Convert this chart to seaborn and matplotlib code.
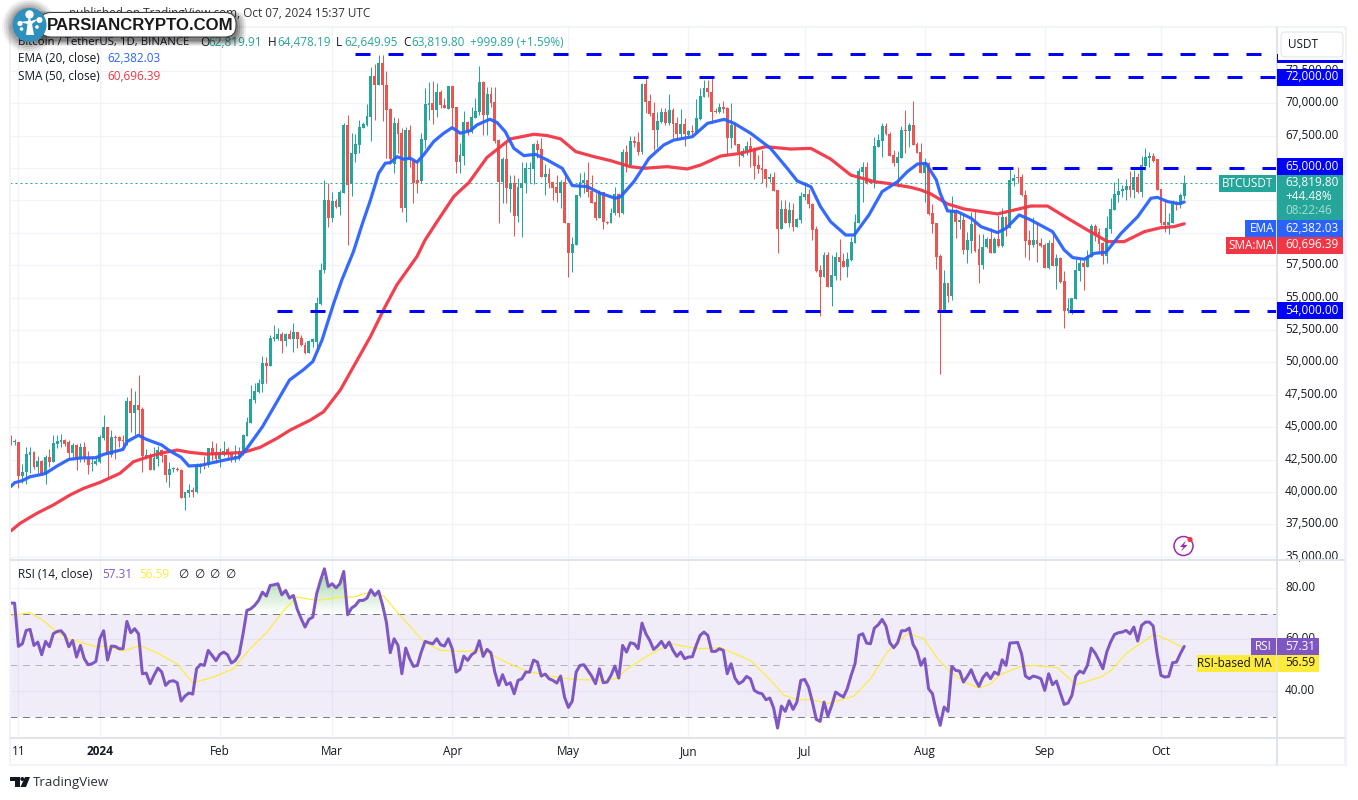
import numpy as np
import pandas as pd
import seaborn as sns
import matplotlib
matplotlib.use("Agg")
from matplotlib import pyplot as plt
from matplotlib.colors import LinearSegmentedColormap
from matplotlib.patches import Rectangle, FancyBboxPatch, Circle, Polygon
from matplotlib.path import Path
from matplotlib.ticker import FuncFormatter
from matplotlib.transforms import ScaledTranslation

sns.set_theme(style="white")
plt.rcParams['font.family'] = ['Open Sans', 'DejaVu Sans']
plt.rcParams['lines.scale_dashes'] = False

# daily candles from 2023-12-09, prices in thousands of USDT
opens = [44.21,43.85,43.85,41.25,41.51,42.87,43.08,41.92,42.39,41.38,
    42.69,42.31,43.70,43.88,44.00,43.88,43.00,43.62,42.51,43.46,
    42.72,42.15,42.15,42.33,44.16,45.01,42.85,44.24,44.24,44.00,
    43.93,46.99,46.11,46.71,46.37,42.77,42.87,41.69,42.54,43.21,
    42.85,41.33,41.74,41.79,41.69,39.53,39.94,40.15,39.99,41.89,
    42.15,42.08,43.36,43.10,42.54,43.08,43.31,43.03,42.59,42.72,
    43.10,44.34,45.34,47.09,47.74,48.33,49.92,49.72,51.83,51.83,
    52.22,51.68,52.19,51.83,52.35,51.88,51.34,50.70,51.58,51.60,
    54.51,57.14,62.54,61.12,62.46,62.02,63.11,68.33,63.75,66.09,
    66.78,68.10,68.35,68.97,72.11,71.42,73.09,71.42,69.56,65.32,
    68.46,67.69,61.95,67.94,65.63,64.08,64.03,67.17,69.90,70.00,
    69.49,70.90,69.87,69.59,71.34,69.69,65.50,65.96,68.59,67.81,
    68.87,69.36,71.65,69.10,70.72,70.10,67.17,63.95,65.68,63.39,
    63.83,61.30,63.47,63.83,64.93,64.93,66.86,66.45,64.34,64.52,
    63.95,63.57,63.11,63.95,60.79,58.42,59.07,62.87,63.88,64.08,
    63.26,62.36,61.18,63.18,60.87,60.78,61.50,62.97,61.56,66.21,
    65.21,67.09,67.04,66.24,71.49,70.15,69.22,67.94,68.58,69.35,
    68.45,69.48,68.45,67.63,68.40,67.53,67.83,67.81,68.81,70.51,
    71.18,70.87,69.40,69.33,69.69,69.61,67.32,68.45,66.86,65.96,
    66.24,66.70,66.52,65.21,65.00,64.93,64.13,64.31,63.31,60.29,
    61.84,60.78,61.76,60.48,60.99,62.79,62.99,62.23,60.29,57.13,
    56.62,58.29,55.84,56.67,58.11,57.82,57.39,57.90,59.24,60.76,
    64.72,65.11,64.03,64.03,66.60,67.11,68.25,67.63,66.01,65.36,
    65.80,67.94,67.89,68.35,66.86,66.24,64.64,65.41,61.51,60.74,
    58.21,54.05,56.10,55.15,61.76,60.86,60.99,58.68,59.40,60.74,
    58.73,57.52,58.88,59.53,58.47,59.53,58.99,61.20,60.40,64.03,
    64.29,64.31,62.95,59.45,59.06,59.45,59.24,59.06,57.26,59.24,
    57.47,58.06,56.28,53.97,54.05,54.92,57.08,57.65,57.39,58.16,
    60.53,60.09,59.24,58.21,60.32,61.76,62.95,63.21,63.31,63.62,
    63.31,64.34,63.15,65.16,65.80,65.93,65.70,63.36,60.84,60.58,
    60.79,62.33,62.13,62.82]
closes = [43.70,43.93,41.25,41.51,42.92,43.08,41.89,42.36,41.38,42.69,
    42.31,43.75,43.93,44.00,43.72,43.00,43.62,42.51,43.46,42.51,
    42.08,42.23,42.39,44.21,45.01,42.85,44.21,44.19,43.90,43.93,
    46.99,46.11,46.71,46.35,42.77,42.85,41.69,42.59,43.23,42.77,
    41.33,41.77,41.82,41.66,39.53,39.99,40.15,39.99,41.95,42.15,
    42.00,43.36,42.85,42.51,43.10,43.16,42.92,42.72,42.77,43.16,
    44.39,45.39,47.14,47.79,48.40,49.97,49.72,51.88,51.94,52.19,
    51.68,52.19,51.78,52.35,51.83,51.32,50.70,51.65,51.78,54.56,
    57.14,62.54,61.12,62.46,62.02,63.13,68.33,63.70,66.14,66.86,
    68.15,68.41,69.02,72.11,71.42,73.09,71.42,69.49,65.68,68.46,
    67.63,61.95,67.94,65.63,63.83,63.83,67.22,69.95,70.00,69.49,
    70.90,69.87,69.62,71.34,69.62,65.50,66.01,68.59,67.81,68.92,
    69.44,71.65,69.10,70.72,70.05,67.12,63.95,65.68,63.44,63.83,
    61.30,63.52,63.83,65.01,65.01,66.86,66.40,64.34,64.52,63.83,
    63.49,63.11,63.95,60.74,58.42,59.14,62.93,63.90,64.08,63.18,
    62.33,61.12,63.18,60.82,60.79,61.56,62.97,61.56,66.26,65.16,
    67.09,66.96,66.26,71.49,70.12,69.17,67.94,68.61,69.33,68.45,
    69.48,68.40,67.63,68.40,67.63,67.89,67.78,68.86,70.56,71.18,
    70.84,69.35,69.33,69.71,69.58,67.32,68.35,66.80,66.24,66.34,
    66.70,66.24,65.16,64.95,64.87,64.13,64.31,63.25,60.29,61.84,
    60.78,61.74,60.48,61.07,62.84,62.99,62.20,60.22,57.05,56.62,
    58.29,55.84,56.72,58.11,57.77,57.39,57.95,59.29,60.81,64.77,
    65.11,63.87,63.87,66.70,67.16,68.27,67.63,65.93,65.36,65.83,
    67.94,67.89,68.35,66.80,66.19,64.64,65.36,61.45,60.68,58.16,
    54.05,56.10,55.15,61.76,60.86,60.99,58.68,59.45,60.68,58.63,
    57.52,58.91,59.53,58.47,59.53,58.99,61.20,60.40,64.08,64.23,
    64.21,62.90,59.40,59.06,59.45,59.11,58.99,57.31,59.24,57.47,
    58.06,56.21,53.97,54.22,55.00,57.13,57.65,57.39,58.16,60.53,
    59.83,59.14,58.24,60.40,61.84,63.00,63.26,63.36,63.62,63.31,
    64.34,63.15,65.21,65.83,65.93,65.57,63.31,60.79,60.58,60.84,
    62.23,62.13,62.92,63.82]
highs = [44.39,44.08,43.85,42.15,43.44,43.44,43.13,42.77,42.46,42.85,
    43.28,44.42,44.37,44.47,44.11,44.00,43.80,43.70,43.75,43.85,
    43.18,42.72,42.72,44.39,45.93,45.01,44.78,44.39,44.31,44.37,
    47.30,47.99,47.79,49.02,46.53,43.28,42.98,43.44,43.54,43.28,
    42.85,42.31,41.95,41.89,41.74,39.99,40.58,40.35,42.26,42.26,
    42.77,43.36,43.93,43.75,43.36,43.93,43.44,43.10,43.62,43.44,
    44.47,45.75,48.25,48.43,48.69,50.50,50.44,52.12,52.89,52.68,
    52.37,52.30,52.50,53.02,52.37,52.14,51.60,51.73,51.86,55.03,
    57.65,64.08,63.83,63.18,62.59,63.31,68.51,69.10,67.69,67.63,
    68.71,68.59,69.95,72.83,73.04,73.73,73.73,72.52,69.60,68.92,
    68.84,68.07,68.15,68.33,65.63,65.50,67.74,71.16,71.62,71.75,
    71.55,71.03,70.39,71.34,71.34,69.74,66.91,69.44,68.66,69.74,
    70.39,72.88,71.75,71.29,71.29,71.29,67.22,65.88,67.04,64.47,
    64.47,64.21,65.50,65.50,65.50,66.91,67.17,67.30,65.32,64.98,
    63.95,64.47,64.08,64.80,60.79,59.71,62.93,64.60,64.73,65.50,
    64.47,63.11,63.31,63.18,60.95,61.89,63.56,63.05,66.47,66.78,
    67.47,67.47,67.81,71.54,72.00,70.72,70.12,69.35,69.61,69.61,
    70.72,69.61,68.97,69.53,68.84,67.94,68.32,70.30,71.15,71.80,
    71.80,72.05,69.61,70.00,70.20,69.69,70.00,68.50,66.86,66.52,
    67.11,67.37,66.60,66.01,66.39,64.93,64.59,64.72,63.31,62.53,
    62.53,62.41,62.28,61.12,63.18,63.95,63.36,62.28,60.53,57.52,
    58.55,58.55,58.29,58.55,59.55,58.47,58.55,59.70,61.45,64.98,
    65.47,65.47,64.08,67.37,67.63,68.45,68.50,67.81,66.39,66.34,
    68.25,69.48,68.45,70.20,67.04,66.91,65.75,65.49,62.23,60.74,
    58.37,57.13,56.10,62.85,61.82,61.51,61.46,60.09,61.64,61.76,
    59.91,59.91,59.71,60.35,59.71,61.38,61.89,61.30,64.98,64.54,
    65.06,64.54,63.31,60.22,61.20,60.86,59.58,59.19,59.45,59.91,
    58.37,58.16,57.06,54.95,55.00,57.96,57.96,57.91,58.68,60.68,
    60.68,60.35,59.32,61.30,62.67,63.95,64.23,63.69,64.13,64.80,
    64.85,64.59,65.93,66.52,66.27,66.14,65.70,63.36,62.54,61.51,
    62.54,62.49,63.05,64.48]
lows = [43.62,43.62,40.33,40.71,40.61,41.43,41.79,41.43,41.30,40.61,
    41.89,42.31,43.39,43.44,43.54,42.51,42.72,41.69,42.33,42.33,
    41.38,41.64,42.08,42.26,44.00,41.17,42.72,42.56,43.44,43.44,
    43.62,44.65,44.39,44.39,41.56,42.51,41.69,41.69,42.00,42.33,
    40.76,40.40,41.56,41.61,39.53,38.63,39.58,39.63,39.91,41.43,
    41.74,41.89,42.46,42.26,41.95,42.77,42.51,42.33,42.33,42.46,
    42.85,44.31,45.34,46.84,47.61,47.71,48.43,49.72,51.68,51.73,
    50.70,51.29,51.78,50.80,51.09,51.27,50.62,50.70,51.22,50.96,
    54.40,56.90,60.48,60.87,61.95,61.38,63.05,59.07,62.85,65.50,
    66.14,68.07,68.25,67.09,68.71,71.42,68.64,65.76,65.32,64.60,
    66.14,61.64,60.87,65.11,62.28,63.05,63.83,66.53,68.71,68.41,
    68.92,69.62,69.62,69.59,68.15,64.65,64.60,65.24,67.56,67.69,
    68.87,69.10,67.56,67.56,69.74,66.97,60.79,62.28,62.28,61.64,
    59.76,60.87,59.71,63.05,63.83,63.78,65.76,64.29,62.90,63.44,
    62.54,62.41,61.90,60.74,56.62,57.01,59.07,62.80,63.11,62.80,
    62.33,61.00,61.12,60.28,60.70,60.73,61.38,61.25,61.45,64.72,
    65.16,66.60,66.01,66.08,69.27,69.02,66.39,66.60,68.45,68.32,
    68.32,67.29,67.22,67.22,66.70,67.47,67.47,67.73,68.71,70.46,
    70.46,68.45,69.22,69.22,69.22,66.01,66.52,66.75,65.16,65.88,
    66.01,65.11,64.18,64.59,63.82,63.51,63.95,63.25,58.47,60.27,
    60.73,60.48,60.14,60.42,60.78,62.53,61.89,59.45,57.00,53.58,
    56.56,55.84,54.35,56.36,56.36,57.34,56.62,57.85,59.19,60.73,
    62.41,63.77,63.82,63.43,66.60,65.88,67.55,65.93,65.16,63.56,
    65.75,66.14,66.65,66.78,66.14,64.59,62.41,61.38,59.96,57.21,
    49.11,54.05,54.69,54.82,59.63,60.32,58.37,57.70,58.47,58.55,
    56.16,57.18,58.81,58.42,58.42,58.93,58.93,59.76,60.35,63.62,
    63.82,62.87,58.11,57.91,58.93,57.78,58.88,57.26,57.18,57.44,
    55.69,56.16,52.68,53.84,53.76,54.87,56.31,55.59,57.34,58.11,
    59.40,58.42,57.60,57.70,59.96,61.76,62.41,62.79,62.54,62.79,
    62.67,63.05,62.79,64.85,65.11,65.50,63.31,60.61,60.09,59.91,
    60.74,61.76,61.89,62.65]

# moving averages read at sample days
ema_days = [0,1,3,5,8,9,12,15,18,22,24,29,30,33,35,39,41,44,46,49,52,56,59,61,65,69,72,75.5,78,80.4,83.4,
    85.5,88.5,90.7,92.9,95,96.7,98,99.8,101.5,103.2,104.9,106.6,109.2,111.8,114,116.1,
    118.7,120.4,123.7,125.6,127.7,129.9,132.5,135.5,138.5,142.4,145,148.8,152.3,156.1,157.5,160.9,
    162.6,164.8,168.6,171.2,176,179.9,184.2,186.8,191.1,196.2,200.5,203.1,206.6,209.1,211.7,215.6,
    217.8,221.6,225,229,231.5,234.1,236.3,239,240,241.9,244.4,248,250.5,254.8,257,260.4,263.4,269,
    272,274.2,277.2,279.8,282.8,286.7,291,294.4,296.1,298.7,301.7,303]
ema_vals = [40.40,40.71,40.87,41.17,41.35,41.43,42.00,42.51,42.62,42.64,42.90,43.28,43.88,44.37,44.06,
    43.62,43.18,42.67,42.00,42.05,42.25,42.51,42.67,43.36,45.03,47.09,48.64,49.41,50.06,51.73,54.56,
    56.36,58.55,60.61,62.54,64.60,65.37,65.42,65.88,65.68,65.76,65.45,66.01,67.04,67.69,68.12,67.69,
    67.89,68.33,68.77,68.51,67.81,66.53,65.96,66.06,65.63,64.98,63.65,63.57,63.05,62.67,62.79,63.95,
    64.72,65.75,66.78,67.16,67.42,68.45,68.76,68.45,67.68,66.52,64.98,64.00,63.56,62.02,60.86,59.83,
    59.83,61.38,63.18,63.95,64.72,65.31,65.37,64.08,63.05,61.69,61.64,61.12,60.48,60.02,60.35,61.38,60.99,60.09,
    58.68,58.09,57.96,58.42,58.50,59.96,61.25,62.67,62.74,62.41,62.25,62.38]
sma_days = [0,2.4,6.7,11,15.3,18.8,23.1,28.2,31.7,35.1,38.6,43,46.3,50.6,55.8,60.1,64.4,68.7,72.2,77.4,80.8,85.1,
    92.9,96.7,99.7,104.9,107,110.1,114.4,118.3,123,129,135.1,138.5,142,145.9,150.6,154.9,160,163.5,169.5,174.7,
    178.1,183.3,188.5,194.9,201.4,206.6,211.7,216.9,223,226.4,232.4,235,237.6,241.9,246.2,254.8,259.1,263.4,
    267.7,272.9,278,283.2,287.5,292.7,297,300.4,303]
sma_vals = [36.98,37.57,38.34,38.99,39.76,40.27,40.74,41.43,42.33,42.67,42.98,43.23,43.05,42.92,42.98,43.05,43.44,44.13,44.78,45.55,46.19,47.86,
    52.00,54.31,55.98,58.17,59.45,60.87,62.80,63.88,65.83,67.25,67.61,67.51,67.25,66.27,65.88,65.57,65.11,64.98,65.11,64.93,
    65.23,65.93,66.14,66.65,66.47,66.52,65.70,64.46,63.95,63.82,63.51,63.31,63.00,62.23,61.84,61.46,61.76,62.07,
    62.07,61.12,60.22,59.32,59.32,60.09,60.40,60.48,60.70]

rsi_vals = [74.15,74.15,57.31,58.34,63.52,63.91,57.69,58.99,54.07,59.25,
    57.18,62.23,63.13,63.39,61.58,57.18,59.64,53.16,57.69,52.51,
    50.18,50.57,51.48,60.28,63.39,51.99,57.44,57.31,56.40,56.40,
    67.02,62.62,64.17,62.23,46.68,46.94,42.80,46.04,48.89,47.33,
    42.15,43.70,43.96,43.19,36.06,38.00,39.17,38.78,48.63,50.31,
    49.92,55.75,53.81,51.74,54.20,55.10,54.07,50.83,51.87,54.20,
    62.23,71.30,71.94,73.24,75.18,78.42,76.87,81.01,81.27,81.66,
    77.38,79.07,76.09,77.12,71.68,68.06,64.82,67.80,68.70,77.77,
    82.95,87.49,80.62,81.66,80.10,81.66,86.45,69.61,72.20,73.24,
    75.18,75.18,76.09,79.33,77.12,78.81,73.50,66.76,54.84,60.28,
    57.69,46.68,56.66,52.51,49.53,49.92,55.10,59.25,58.73,58.34,
    60.28,57.95,57.44,60.28,56.40,47.33,48.37,
    53.55,51.87,54.07,55.10,59.51,53.42,56.14,54.84,47.33,42.15,
    46.30,42.41,43.19,38.91,44.09,44.74,47.33,47.33,51.99,51.22,
    45.78,46.55,44.74,44.09,43.06,45.78,37.62,33.60,36.06,47.33,
    49.92,50.18,47.98,45.78,42.80,48.63,43.19,43.45,46.04,49.66,
    45.00,57.69,55.10,58.73,58.34,56.40,66.37,62.23,59.64,56.14,
    57.44,59.25,56.79,58.99,55.75,53.42,55.10,52.51,53.16,53.29,
    57.69,61.58,62.88,61.58,55.36,55.36,56.40,55.75,46.68,50.57,
    45.00,42.80,43.70,45.65,44.74,40.21,39.30,38.91,36.58,37.23,
    33.34,25.57,34.12,32.05,36.19,32.82,35.67,44.09,44.48,41.50,
    35.67,28.94,28.16,35.67,30.23,34.38,39.56,38.52,37.62,40.85,
    46.04,50.57,61.58,62.23,58.60,58.34,64.43,65.72,67.80,65.21,
    58.73,56.79,58.73,63.39,63.39,64.43,
    58.08,55.49,49.92,52.51,40.85,38.91,31.79,26.61,33.73,32.05,
    49.53,47.98,47.72,43.45,45.65,48.24,44.48,41.76,45.13,46.94,
    44.74,47.33,46.42,52.12,49.92,58.60,58.73,58.86,54.46,45.78,
    44.74,45.78,45.39,44.74,40.21,46.68,42.41,43.83,39.30,34.77,
    35.28,38.26,45.78,47.72,46.94,49.92,56.66,54.72,51.87,48.63,
    55.10,58.99,61.97,62.62,62.88,63.52,62.23,64.82,59.38,65.47,
    66.76,66.76,65.21,54.46,46.04,45.39,45.65,50.96,51.22,54.46,57.31]
rsi_ma_days = [0,5,8.4,11.9,15.3,22.2,24.8,29.1,33.4,37.7,42.9,47,52.4,57.5,61.8,66.2,70.5,73.9,79.1,85.1,88.5,92.9,96.3,
    100.6,106.6,110.9,115.8,122.1,128.2,133.3,139.4,145.4,154,156.6,159.2,164.3,170.4,177.3,183.3,191,196.2,199.7,203.1,
    207,210.9,217.7,222,226.3,231.5,232.4,235.8,239.3,242.7,246.2,250,253.1,255.6,260.8,264.3,270.3,275,281.5,284.1,288.4,295.3,298.7,303]
rsi_ma_vals = [69.35,70.39,67.41,62.88,60.03,57.18,57.44,55.49,57.69,54.84,50.57,43.19,45.39,48.63,56.40,62.88,71.30,76.48,75.18,76.48,76.48,78.42,76.87,
    69.35,59.25,55.75,55.36,55.75,50.96,47.59,45.78,44.48,44.09,45.00,48.63,53.55,58.34,56.40,56.79,51.87,44.09,38.26,36.58,
    36.58,35.03,38.00,44.74,55.10,62.23,61.97,60.28,52.51,47.33,43.45,41.11,42.80,46.42,49.53,49.92,49.02,42.41,45.39,47.98,55.10,61.97,59.90,56.59]

# hand drawn levels: price, first day
level_prices = [73770, 72000, 65000, 54000]
level_starts = [88.9, 160.8, 238.0, 68.8]
level_ends = [323.3, 340, 340, 340]

month_days = [2, 23, 54, 83, 114, 144, 175, 205, 236, 267, 297]
month_labels = ['11', '2024', 'Feb', 'Mar', 'Apr', 'May', 'Jun', 'Jul', 'Aug', 'Sep', 'Oct']
price_ticks = list(range(35000, 75000, 2500))
hidden_ticks = [60000, 62500, 65000]  # sit behind the tags on the scale
rsi_ticks = [40, 60, 80]

UP = '#26a69a'
DOWN = '#ef5350'
EMA_C = '#2962ff'
SMA_C = '#f23645'
RSI_C = '#7e57c2'
RSI_MA_C = '#ffeb3b'
LEVEL_C = '#0000ff'
TXT = '#131722'
GRID = '#f0f3fa'
BORDER = '#e0e3eb'
FS = 11.7

df = pd.DataFrame({'open': opens, 'high': highs, 'low': lows, 'close': closes}) * 1000
df['rsi'] = rsi_vals
df['day'] = np.arange(len(df))
df['color'] = np.where(df['close'] >= df['open'], UP, DOWN)

W, H = 1358, 800
fh = plt.figure(figsize=(W / 100, H / 100), dpi=100, facecolor='white')
PX = 0.72  # points per pixel


def pane(x0, y0, x1, y1):
    return fh.add_axes([x0 / W, 1 - y1 / H, (x1 - x0) / W, (y1 - y0) / H])


def raise_labels(labels, px):
    for lab in labels:
        lab.set_transform(lab.get_transform() + ScaledTranslation(0, px / 100, fh.dpi_scale_trans))


# ---------- price pane ----------
ah = pane(10, 27, 1277, 559)
ah.set_xlim(-0.18, 326.96)
ah.set_ylim(34820, 75890)
ah.vlines(df['day'], df['low'], df['high'], colors=df['color'], linewidth=1 * PX, zorder=3)
ah.bar(df['day'], np.maximum((df['close'] - df['open']).abs(), 80), bottom=df[['open', 'close']].min(axis=1),
       width=0.74, color=df['color'], linewidth=0, zorder=3)
sns.lineplot(x=sma_days, y=np.array(sma_vals) * 1000, ax=ah, color=SMA_C, linewidth=3.2 * PX, alpha=0.95,
             estimator=None, errorbar=None, legend=False, zorder=4, solid_joinstyle='round')
sns.lineplot(x=ema_days, y=np.array(ema_vals) * 1000, ax=ah, color=EMA_C, linewidth=3.2 * PX, alpha=0.95,
             estimator=None, errorbar=None, legend=False, zorder=4, solid_joinstyle='round')
ah.axhline(df['close'].iloc[-1], color=UP, linestyle=(0, (1.4, 2.2)), linewidth=1 * PX, zorder=2)
for price, start, stop in zip(level_prices, level_starts, level_ends):
    ah.plot([start, stop], [price, price], color=LEVEL_C, linewidth=3 * PX, dashes=(15 * PX, 18 * PX),
            dash_capstyle='butt', zorder=5)
ah.set_xticks(month_days)
ah.set_xticklabels([])
ah.set_yticks(price_ticks)
ah.yaxis.tick_right()
ah.set_yticklabels(['' if v in hidden_ticks else f'{v:,.2f}' for v in price_ticks])
ah.tick_params(axis='y', length=0, pad=8 * PX, labelsize=FS * PX, labelcolor=TXT)
ah.tick_params(axis='x', length=0)
ah.grid(True, color=GRID, linewidth=1.2 * PX, zorder=0)
ah.set_axisbelow(True)
raise_labels(ah.get_yticklabels(), 2)
for s in ah.spines.values():
    s.set_visible(False)

# ---------- RSI pane ----------
ar = pane(10, 560, 1277, 738)
ar.set_xlim(-0.18, 326.96)
ar.set_ylim(21.7, 90.9)
ar.axhspan(30, 70, color=RSI_C, alpha=0.1, linewidth=0, zorder=1)
for lev, al in zip([70, 50, 30], [1, 0.5, 1]):
    ar.axhline(lev, color='#787b86', linewidth=1 * PX, linestyle=(0, (5, 4)), alpha=al, zorder=2)
fill = ar.fill_between(df['day'], 70, df['rsi'], where=df['rsi'] >= 70, interpolate=True, facecolor='none', linewidth=0)
cmap = LinearSegmentedColormap.from_list('up', [(0.3, 0.69, 0.31, 0.0), (0.3, 0.69, 0.31, 0.45)])
im = ar.imshow(np.linspace(1, 0, 64).reshape(-1, 1), extent=[-0.18, 326.96, 70, 84], aspect='auto', cmap=cmap,
               zorder=2, interpolation='bilinear')
im.set_clip_path(Path.make_compound_path(*fill.get_paths()), transform=ar.transData)
ar.set_xlim(-0.18, 326.96)
ar.set_ylim(21.7, 90.9)
sns.lineplot(x=rsi_ma_days, y=rsi_ma_vals, ax=ar, color=RSI_MA_C, linewidth=1.2 * PX, estimator=None,
             errorbar=None, legend=False, zorder=3)
sns.lineplot(data=df, x='day', y='rsi', ax=ar, color=RSI_C, linewidth=3 * PX, estimator=None,
             errorbar=None, legend=False, zorder=4)
ar.set_xlabel('')
ar.set_ylabel('')
ar.set_xticks(month_days)
ar.set_xticklabels(month_labels)
ar.get_xticklabels()[1].set_fontweight('bold')
ar.set_yticks(rsi_ticks)
ar.yaxis.tick_right()
ar.set_yticklabels([f'{v:.2f}' for v in rsi_ticks])
ar.tick_params(axis='y', length=0, pad=8 * PX, labelsize=FS * PX, labelcolor=TXT)
ar.tick_params(axis='x', length=0, pad=7 * PX, labelsize=FS * PX, labelcolor=TXT)
ar.grid(True, color=GRID, linewidth=1.2 * PX, zorder=0)
ar.set_axisbelow(True)
raise_labels(ar.get_yticklabels(), 2)
for s in ar.spines.values():
    s.set_visible(False)

# ---------- frame, labels, watermark in figure pixels ----------
ov = fh.add_axes([0, 0, 1, 1], zorder=10)
ov.set_xlim(0, W)
ov.set_ylim(H, 0)
ov.axis('off')
ov.patch.set_alpha(0)


def rect(x0, y0, x1, y1, color, z=2, **kw):
    ov.add_patch(Rectangle((x0, y0), x1 - x0, y1 - y0, facecolor=color, edgecolor='none', zorder=z, **kw))


def put(x, y, s, color=TXT, size=FS, ha='left', z=6, **kw):
    ov.text(x, y, s, color=color, fontsize=size * PX, ha=ha, va='center', zorder=z, **kw)


# frame
rect(9, 26, 1347, 28, GRID)
rect(9, 764, 1347, 766, GRID)
rect(9, 26, 11, 766, GRID)
rect(1344, 26, 1347, 766, GRID)
rect(1276, 27, 1278, 765, BORDER)
rect(10, 558.5, 1345, 560.5, BORDER)
rect(10, 737, 1345, 739, BORDER)

# header and legend
put(370, 14, 'published on TradingView.com, Oct 07, 2024 15:37 UTC', color='#333333', ha='right')
put(18, 42, 'Bitcoin / TetherUS, 1D, BINANCE', size=11.4)
for x, s in zip([200, 268, 336, 403], 'OHLC'):
    put(x, 42, s)
for x, s in zip([208, 277, 344, 411, 470], ['62,819.91', '64,478.19', '62,649.95', '63,819.80', '+999.89 (+1.59%)']):
    put(x, 42, s, color=UP)
put(18, 59, 'EMA (20, close)')
put(107, 59, '62,382.03', color=EMA_C)
put(18, 76, 'SMA (50, close)')
put(107, 76, '60,696.39', color=SMA_C)
put(18, 575, 'RSI (14, close)')
put(102, 575, '57.31', color=RSI_C)
put(139, 575, '56.59', color=RSI_MA_C)
for x in [178, 194, 209, 225]:
    put(x, 575, '∅')

# price scale boxes
rect(1277, 54, 1343, 63, LEVEL_C, z=3)
rect(1278, 30, 1345, 60, 'white', z=4)
ov.add_patch(FancyBboxPatch((1281, 32), 62, 25, boxstyle='round,pad=0,rounding_size=4', facecolor='white',
                            edgecolor=BORDER, linewidth=1 * PX, zorder=5))
put(1303, 45, 'USDT', ha='center')
for y0, s in [(69, '72,000.00'), (158, '65,000.00'), (302, '54,000.00')]:
    rect(1277, y0, 1343, y0 + 17, LEVEL_C, z=4)
    put(1285, y0 + 8, s, color='white')
rect(1219, 175, 1276, 192, UP, z=4)
put(1247.5, 183.5, 'BTCUSDT', color='white', ha='center')
rect(1277, 175, 1343, 220, UP, z=4)
put(1285, 183, '63,819.80', color='white')
put(1285, 197, '+44.48%', color='white')
put(1285, 211, '08:22:46', color='#a8dcd6')
rect(1245, 220, 1276, 237, EMA_C, z=4)
rect(1277, 220, 1343, 237, EMA_C, z=4)
put(1274, 228.5, 'EMA', color='white', ha='right')
put(1285, 228, '62,382.03', color='white')
rect(1226, 237, 1276, 254, SMA_C, z=4)
rect(1277, 237, 1343, 254, SMA_C, z=4)
put(1274, 245.5, 'SMA:MA', color='white', ha='right')
put(1285, 245, '60,696.39', color='white')
rect(1251, 638, 1276, 655, RSI_C, z=4)
rect(1277, 638, 1319, 655, RSI_C, z=4)
put(1272, 646.5, 'RSI', color='white', ha='right')
put(1285, 646, '57.31', color='white')
rect(1197, 655, 1276, 672, RSI_MA_C, z=4)
rect(1277, 655, 1319, 672, RSI_MA_C, z=4)
put(1272, 663.5, 'RSI-based MA', color=TXT, ha='right')
put(1285, 663, '56.59', color=TXT)

# lightning badge
ov.add_patch(Circle((1183.5, 546), 9.5, facecolor='white', edgecolor='#9c27b0', linewidth=1.5 * PX, zorder=6))
ov.add_patch(Polygon([(1186, 540.5), (1180, 547), (1183.5, 547), (1181, 551.5), (1187.5, 545), (1184, 545)],
                     facecolor='#9c27b0', edgecolor='none', zorder=7))
ov.add_patch(Circle((1190, 539.5), 2.6, facecolor='#f23645', edgecolor='none', zorder=8))

# TradingView mark
ov.add_patch(Polygon([(10, 777), (19.5, 777), (19.5, 787), (14.5, 787), (14.5, 781), (10, 781)], facecolor=TXT, edgecolor='none'))
ov.add_patch(Circle((22.3, 779), 2, facecolor=TXT, edgecolor='none'))
ov.add_patch(Polygon([(25, 777), (30, 777), (26, 787), (20.5, 787)], facecolor=TXT, edgecolor='none'))
put(33, 782.5, 'TradingView', color='#2a2e39', size=13.3)

# watermark
for grow, al in zip([10, 8, 6, 4, 2], [0.07, 0.1, 0.12, 0.15, 0.18]):
    ov.add_patch(FancyBboxPatch((40 - grow, 12 - grow * 0.4 + 3), 196 + grow * 2, 25 + grow, boxstyle='round,pad=0,rounding_size=12',
                                facecolor='black', edgecolor='none', alpha=al, zorder=20))
    ov.add_patch(Circle((29, 26), 17 + grow, facecolor='black', edgecolor='none', alpha=al * 0.7, zorder=20))
ov.add_patch(FancyBboxPatch((40, 12.5), 196, 24.5, boxstyle='round,pad=0,rounding_size=11', facecolor='white',
                            edgecolor='#3a3a3a', linewidth=1 * PX, zorder=21))
ov.text(140.5, 25, 'PARSIANCRYPTO.COM', color='#1a1a1a', fontsize=16.7 * PX, fontweight='bold', family='Liberation Sans',
        ha='center', va='center', zorder=22)
ov.add_patch(Circle((29.5, 25), 17, facecolor='#2f8fbd', edgecolor='none', zorder=23))
ov.add_patch(Polygon([(26, 35), (27.5, 24), (20, 22), (28, 21), (29, 16), (31, 21), (38, 19), (32, 24), (34, 35)],
                     facecolor='white', edgecolor='none', zorder=24))
for cx, cy, r in [(29.5, 14.5, 4.2), (20, 23.5, 2.6), (39.5, 20, 3), (37, 27, 1.8), (21.5, 29, 1.8)]:
    ov.add_patch(Circle((cx, cy), r, facecolor='white', edgecolor='none', zorder=25))

fh.savefig('out.png', dpi=100, facecolor='white')
